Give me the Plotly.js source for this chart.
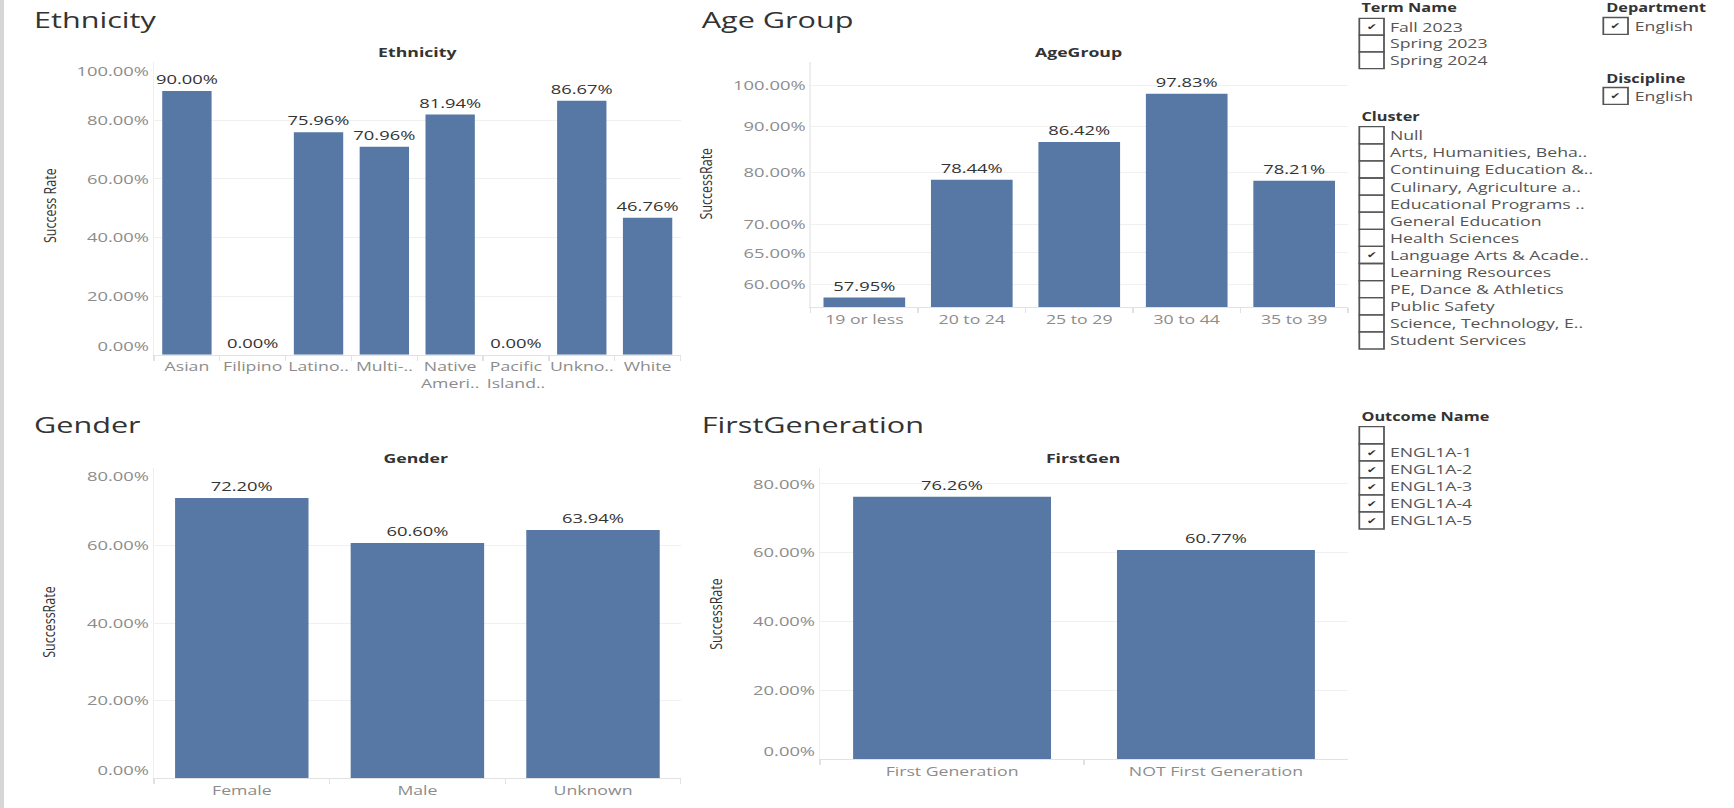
<!DOCTYPE html>
<html>
<head>
<meta charset="utf-8">
<script src="https://cdn.plot.ly/plotly-3.0.1.min.js"></script>
<style>
  html, body { margin: 0; padding: 0; background: #ffffff; overflow: hidden; }
  #wrap { width: 1734px; height: 808px; overflow: hidden; position: relative; }
  #chart { width: 1275px; height: 808px; transform: scaleX(1.36); transform-origin: 0 0; }
</style>
</head>
<body>
<div id="wrap"><div id="chart"></div></div>
<script>
// ---------------- DATA ----------------
const ethnicityCats = ["Asian", "Filipino", "Latino..", "Multi-..", "Native<br>Ameri..", "Pacific<br>Island..", "Unkno..", "White"];
const ethnicityRates = [0.9000, 0.0000, 0.7596, 0.7096, 0.8194, 0.0000, 0.8667, 0.4676];

const ageCats = ["19 or less", "20 to 24", "25 to 29", "30 to 44", "35 to 39"];
const ageRates = [0.5795, 0.7844, 0.8642, 0.9783, 0.7821];
const ageTickVals = [0.60, 0.65, 0.70, 0.80, 0.90, 1.00];

const genderCats = ["Female", "Male", "Unknown"];
const genderRates = [0.7220, 0.6060, 0.6394];

const firstGenCats = ["First Generation", "NOT First Generation"];
const firstGenRates = [0.7626, 0.6077];

const linearTickVals = [0, 0.2, 0.4, 0.6, 0.8, 1.0];

const termNames = ["Fall 2023", "Spring 2023", "Spring 2024"];
const termChecked = [true, false, false];
const departments = ["English"];
const departmentChecked = [true];
const disciplines = ["English"];
const disciplineChecked = [true];
const clusters = ["Null", "Arts, Humanities, Beha..", "Continuing Education &..", "Culinary, Agriculture a..",
  "Educational Programs ..", "General Education", "Health Sciences", "Language Arts & Acade..",
  "Learning Resources", "PE, Dance & Athletics", "Public Safety", "Science, Technology, E..", "Student Services"];
const clusterChecked = [false, false, false, false, false, false, false, true, false, false, false, false, false];
const outcomes = ["", "ENGL1A-1", "ENGL1A-2", "ENGL1A-3", "ENGL1A-4", "ENGL1A-5"];
const outcomeChecked = [false, true, true, true, true, true];

// ---------------- STYLE ----------------
const W = 1734, H = 808;
const STRETCH = 1.36;               // the dashboard is rendered horizontally wide
const W0 = Math.round(W / STRETCH);  // plotly width before the horizontal scale
const px = x => x / W;               // paper fraction (independent of the stretch)
const py = y => 1 - y / H;
const FONT = "Open Sans, Noto Sans, sans-serif";
const BAR = "#5778a4";
const GRID = "#f0f0f0";
const AXL = "#e2e2e2";
const TICKC = "#8c8c8c";
const pct = v => (v * 100).toFixed(2) + "%";

function barTrace(x, y, xa, ya, width) {
  return {
    type: "bar", x: x, y: y, xaxis: xa, yaxis: ya,
    marker: { color: BAR, line: { width: 0 } },
    width: width,
    texttemplate: "%{y:.2%}",
    textposition: "outside",
    constraintext: "none",
    cliponaxis: false,
    textfont: { family: FONT, size: 13.5, color: "#333333" },
    hoverinfo: "skip"
  };
}
function emptyTrace(xa, ya) {
  return { type: "scatter", mode: "markers", x: [], y: [], xaxis: xa, yaxis: ya, hoverinfo: "skip", showlegend: false };
}

const data = [
  barTrace(ethnicityCats, ethnicityRates, "x", "y", 0.75),
  barTrace(ageCats, ageRates, "x2", "y2", 0.76),
  barTrace(genderCats, genderRates, "x3", "y3", 0.76),
  barTrace(firstGenCats, firstGenRates, "x4", "y4", 0.75),
  emptyTrace("x", "y5"), emptyTrace("x", "y6"),
  emptyTrace("x3", "y7"), emptyTrace("x3", "y8"),
  emptyTrace("x4", "y9")
];

function xAxis(d0, d1, anchor) {
  return {
    domain: [px(d0), px(d1)], anchor: anchor, type: "category",
    tickson: "boundaries", ticks: "outside", ticklen: 5, tickcolor: AXL,
    tickangle: 0,
    showline: true, linecolor: AXL, linewidth: 1,
    showgrid: false, zeroline: false, fixedrange: true,
    tickfont: { family: FONT, size: 13, color: TICKC }
  };
}
// main value axis: gridlines at every tick, labels except those clamped inside the plot
function yAxis(top, bottom, anchor, vals, clamped, extra) {
  return Object.assign({
    domain: [py(bottom), py(top)], anchor: anchor,
    tickmode: "array", tickvals: vals,
    ticktext: vals.map(v => clamped.indexOf(v) >= 0 ? "" : pct(v)),
    showgrid: true, gridcolor: GRID, gridwidth: 1,
    showline: true, linecolor: "#eeeeee", zeroline: false,
    ticks: "", fixedrange: true,
    tickfont: { family: FONT, size: 13.5, color: TICKC }
  }, extra || {});
}
// overlay axis carrying one edge label; its range is offset so the label sits
// shiftPx pixels inside the plot (positive = downward), as Tableau draws it
function edgeLabelAxis(top, bottom, anchor, over, val, range, shiftPx) {
  const span = range[1] - range[0];
  const d = shiftPx / (bottom - top) * span;
  return {
    domain: [py(bottom), py(top)], anchor: anchor, overlaying: over, side: "left",
    range: [range[0] + d, range[1] + d], tickmode: "array", tickvals: [val], ticktext: [pct(val)],
    showgrid: false, showline: true, linecolor: "#eeeeee", zeroline: false, ticks: "", fixedrange: true,
    tickfont: { family: FONT, size: 13.5, color: TICKC }
  };
}

const annotations = [];
const shapes = [];

function ann(text, x, y, opts) {
  annotations.push(Object.assign({
    text: text, x: px(x), y: py(y), xref: "paper", yref: "paper",
    showarrow: false, xanchor: "left", yanchor: "middle",
    font: { family: FONT, size: 13, color: "#333333" }
  }, opts || {}));
}

// big panel titles
[["Ethnicity", 31, 19], ["Age Group", 698.5, 19], ["Gender", 31, 424.3], ["FirstGeneration", 698.5, 424.3]]
  .forEach(t => ann(t[0], t[1], t[2], { font: { family: FONT, size: 22.5, color: "#333333" } }));

// small header above plots
[["Ethnicity", 417.4, 52.3], ["AgeGroup", 1079, 52.3], ["Gender", 416.5, 457.7], ["FirstGen", 1083.8, 457.7]]
  .forEach(t => ann("<b>" + t[0] + "</b>", t[1], t[2], { xanchor: "center", font: { family: FONT, size: 13, color: "#333333" } }));

// y axis titles
[["Success Rate", 49.1, 206], ["SuccessRate", 706, 183.3], ["SuccessRate", 49.1, 621.7], ["SuccessRate", 716, 613.3]]
  .forEach(t => ann(t[0], t[1], t[2], { xanchor: "center", textangle: -90, font: { family: FONT, size: 12.5, color: "#333333" } }));

// left gray strip
shapes.push({ type: "rect", xref: "paper", yref: "paper", x0: 0, x1: px(4), y0: 0, y1: 1, fillcolor: "#d6d6d6", line: { width: 0 }, layer: "below" });

// filter lists
function filterHeader(text, x, y) {
  ann("<b>" + text + "</b>", x, y, { font: { family: FONT, size: 12, color: "#333333" } });
}
function filterList(items, checked, x0, yTop, rowH) {
  items.forEach((it, i) => {
    const t = yTop + i * rowH, b = t + rowH;
    shapes.push({ type: "rect", xref: "paper", yref: "paper", x0: px(x0), x1: px(x0 + 24.7), y0: py(b), y1: py(t),
      line: { color: "#555555", width: 1.3 }, fillcolor: "rgba(0,0,0,0)" });
    if (checked[i]) {
      ann("✔", x0 + 12.3, (t + b) / 2 + 0.5, { xanchor: "center", font: { family: "DejaVu Sans, sans-serif", size: 9, color: "#333333" } });
    }
    if (it) ann(it, x0 + 28.5, (t + b) / 2, { font: { family: FONT, size: 13, color: "#555555" } });
  });
}

filterHeader("Term Name", 1359, 7.5);
filterList(termNames, termChecked, 1359.3, 18.3, 16.8);
filterHeader("Department", 1603.5, 7.5);
filterList(departments, departmentChecked, 1603.3, 17.5, 16.8);
filterHeader("Discipline", 1603.5, 78.3);
filterList(disciplines, disciplineChecked, 1603.3, 87.5, 16.8);
filterHeader("Cluster", 1359, 116);
filterList(clusters, clusterChecked, 1359.3, 126.7, 17.1);
filterHeader("Outcome Name", 1359, 416);
filterList(outcomes, outcomeChecked, 1359.3, 426.7, 17.05);

const r1 = [0, 1.0], r3 = [0, 0.80], r4 = [0, 0.847];

const layout = {
  width: W0, height: H,
  margin: { l: 0, r: 0, t: 0, b: 0 },
  paper_bgcolor: "#ffffff", plot_bgcolor: "#ffffff",
  showlegend: false,
  font: { family: FONT },
  xaxis: xAxis(154, 680.5, "y"),
  yaxis: yAxis(61.7, 354.7, "x", linearTickVals, [0, 1.0], { range: r1 }),
  yaxis5: edgeLabelAxis(61.7, 354.7, "x", "y", 1.0, r1, 9.5),
  yaxis6: edgeLabelAxis(61.7, 354.7, "x", "y", 0, r1, -8),
  xaxis2: xAxis(810.6, 1347.9, "y2"),
  yaxis2: yAxis(61.7, 307.3, "x2", ageTickVals, [], {
    type: "log",
    range: [Math.log10(0.5652), Math.log10(1.062)]
  }),
  xaxis3: xAxis(154, 680.8, "y3"),
  yaxis3: yAxis(467.7, 778.3, "x3", linearTickVals.slice(0, 5), [0, 0.8], { range: r3 }),
  yaxis7: edgeLabelAxis(467.7, 778.3, "x3", "y3", 0.8, r3, 8.3),
  yaxis8: edgeLabelAxis(467.7, 778.3, "x3", "y3", 0, r3, -8.3),
  xaxis4: xAxis(820.1, 1347.9, "y4"),
  yaxis4: yAxis(467.7, 759.4, "x4", linearTickVals.slice(0, 5), [0], { range: r4 }),
  yaxis9: edgeLabelAxis(467.7, 759.4, "x4", "y4", 0, r4, -7.7),
  annotations: annotations,
  shapes: shapes
};

Plotly.newPlot("chart", data, layout, { displayModeBar: false, staticPlot: true });
</script>
</body>
</html>
